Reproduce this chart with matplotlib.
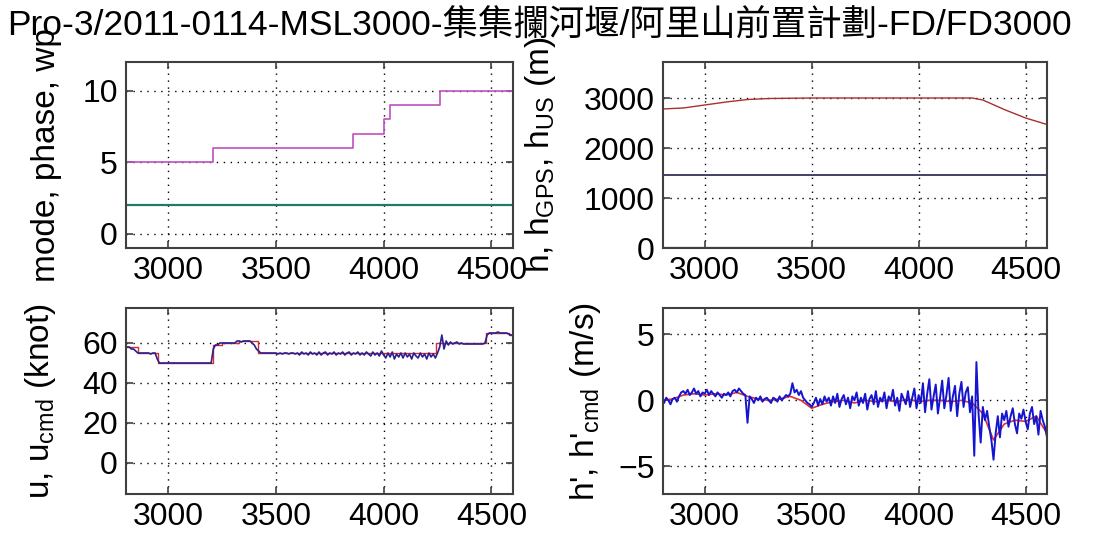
import numpy as np
import matplotlib.pyplot as plt

plt.rcParams['font.family'] = ['Liberation Sans', 'Noto Sans CJK TC', 'DejaVu Sans']
plt.rcParams['mathtext.fontset'] = 'custom'
plt.rcParams['mathtext.rm'] = 'Liberation Sans'
plt.rcParams['mathtext.it'] = 'Liberation Sans'

titulo = 'Pro-3/2011-0114-MSL3000-集集攔河堰/阿里山前置計劃-FD/FD3000'

# modo / fase / waypoint (escalones)
t_wp = [2800, 3208, 3856, 4000, 4030, 4260, 4600]
wp = [5, 6, 7, 8, 9, 10, 10]
t_mode = [2800, 4600]
mode = [2, 2]

# alturas
t_h = [2800, 2900, 3000, 3100, 3200, 3300, 3500, 3700, 4000, 4250, 4300, 4400, 4500, 4600]
h = [2780, 2800, 2860, 2920, 2970, 2990, 3000, 3000, 3000, 3000, 2960, 2770, 2600, 2470]
t_gps = [2800, 4600]
h_gps = [1460, 1460]
h_us = [0, 0]

# velocidad
t10 = np.arange(2800, 4601, 10)
u = [58, 58, 58, 57, 57, 56, 55, 55, 55, 55,
     55, 55, 54.5, 55, 55, 52, 50, 50, 50, 50,
     50, 50, 50, 50, 50, 50, 50, 50, 50, 50,
     50, 50, 50, 50, 50, 50, 50, 50, 50, 50,
     50, 57, 59, 59, 60, 60, 60, 60, 60, 60,
     60, 60, 61, 61, 60.5, 61, 61, 61, 61, 60,
     59, 57, 56, 55, 55, 55, 55, 55, 55, 55,
     55, 54.5, 55, 54.5, 55, 55, 54.5, 55, 55, 54.5,
     55, 54, 55.5, 54.5, 55, 54, 55.5, 54.5, 55, 54,
     55.5, 54, 55, 55.5, 54, 55, 54.5, 55.5, 54, 55,
     54.5, 55.5, 54, 55, 55.5, 54, 55, 54.5, 55.5, 54,
     55, 54, 55.5, 54.5, 53.5, 55.5, 54, 55, 53.5, 56,
     54, 52.5, 55, 53, 55.5, 52, 54.5, 53, 55, 52.5,
     55, 53, 54.5, 52, 55, 53.5, 52.5, 55, 53, 54.5,
     52, 55, 53, 54.5, 52.5, 55, 58, 64, 57, 61,
     59, 60.5, 59.5, 60, 60.5, 59.5, 60, 59.5, 59.5, 59.5,
     59.5, 59.5, 59.5, 59.5, 59.5, 59.5, 59.5, 60, 64, 65,
     65, 65, 65, 65.5, 65, 65, 65, 65, 64.5, 64,
     64]
t_ucmd = [2800, 2860, 2955, 3210, 3250, 3330, 3415, 4245, 4475, 4580, 4600]
u_cmd = [58, 55, 50, 59, 60, 61, 55, 60, 65, 64, 64]

# velocidad vertical
hdot = [0.1, -0.2, 0.2, 0.0, -0.3, 0.1, 0.2, -0.1, 0.3, 0.6,
        0.7, 0.5, 0.8, 0.4, 0.6, 0.9, 0.5, 0.7, 0.3, 0.6,
        0.5, 0.8, 0.4, 0.7, 0.5, 0.3, 0.6, 0.4, 0.2, 0.5,
        0.4, 0.6, 0.3, 0.7, 0.8, 0.6, 0.9, 0.7, 0.5, 0.4,
        -1.7, 0.3, 0.1, -0.2, 0.2, 0.0, 0.3, -0.1, 0.1, 0.2,
        0.0, -0.2, 0.2, 0.1, -0.1, 0.3, 0.0, 0.2, 0.4, 0.3,
        0.5, 1.3, 0.6, 0.8, 0.4, 0.7, 0.2, 0.0, -0.2, -0.3,
        -0.5, -0.2, 0.2, -0.4, 0.1, -0.3, 0.3, -0.1, 0.2, -0.4,
        0.3, -0.2, 0.5, -0.5, 0.1, 0.4, -0.3, 0.2, -0.6, 0.3,
        0.0, 0.6, -0.4, 0.2, -0.2, 0.5, -0.7, 0.1, 0.4, -0.3,
        0.7, -0.5, 0.2, -0.1, 0.6, -0.6, 0.3, 0.0, 0.8, -0.4,
        0.2, -0.8, 0.5, 0.1, -0.3, 0.7, -0.5, 0.2, 0.9, -0.6,
        0.4, -0.2, 1.3, -0.9, 0.5, 1.6, -0.7, 0.3, 1.2, -1.0,
        0.2, 1.5, -0.6, 0.4, 1.7, -0.8, 0.3, 1.1, -1.2, 0.5,
        1.4, -0.5, 0.6, 1.0, -0.9, 0.3, -4.2, 2.9, -1.0, -3.2,
        -0.5, -1.5, -0.8, -2.0, -3.0, -4.5, -2.5, -1.2, -2.8, -1.0,
        -1.5, -0.8, -2.0, -1.2, -0.6, -1.8, -2.5, -1.0, -1.4, -0.7,
        -1.6, -2.2, -1.0, -0.5, -1.8, -1.2, -2.6, -0.8, -1.5, -2.0,
        -2.8]
t50 = np.arange(2800, 4601, 50)
hdot_cmd = [0.0, 0.1, 0.4, 0.5, 0.4, 0.5, 0.4, 0.6, 0.3, 0.1,
            0.0, 0.1, 0.3, 0.0, -0.6, -0.3, -0.1, 0.0, -0.2, 0.0,
            -0.1, 0.0, -0.1, 0.1, -0.1, 0.0, 0.0, -0.1, 0.0, -0.2,
            -1.0, -3.0, -1.8, -1.5, -1.6, -1.2, -2.5]

fig = plt.figure(figsize=(10.97, 5.41), dpi=100)
W, H = 1097, 541
def caja(x0, y0, x1, y1):
    return fig.add_axes([x0 / W, 1 - y1 / H, (x1 - x0) / W, (y1 - y0) / H])

ax1 = caja(126, 62, 513, 248)
ax2 = caja(663, 62, 1047, 248)
ax3 = caja(126, 308, 513, 494)
ax4 = caja(663, 308, 1047, 494)

ax1.step(t_wp, wp, where='post', color='#c050c0', lw=1.2)
ax1.plot(t_mode, mode, color='#1f7a6a', lw=1.6)
ax1.set_ylim(-1, 12)
ax1.set_yticks([0, 5, 10])
ax1.set_ylabel('mode, phase, wp', va='center')
ax1.yaxis.set_label_coords(-0.205, 0.5)

ax2.plot(t_h, h, color='#a83030', lw=1.0)
ax2.plot(t_gps, h_gps, color='#202050', lw=1.2)
ax2.plot(t_gps, h_us, color='#20a020', lw=1.6)
ax2.set_ylim(0, 3720)
ax2.set_yticks([0, 1000, 2000, 3000])
ax2.set_ylabel('h, h$_{GPS}$, h$_{US}$ (m)', va='center')
ax2.yaxis.set_label_coords(-0.32, 0.5)

ax3.step(t_ucmd, u_cmd, where='post', color='#d03030', lw=1.0)
ax3.plot(t10, u, color='#2a2090', lw=1.2)
ax3.set_ylim(-15.5, 77.5)
ax3.set_yticks([0, 20, 40, 60])
ax3.set_ylabel('u, u$_{cmd}$ (knot)', va='center')
ax3.yaxis.set_label_coords(-0.222, 0.5)

ax4.plot(t50, hdot_cmd, color='#e03030', lw=1.2)
ax4.plot(t10, hdot, color='#1515d0', lw=1.4)
ax4.set_ylim(-7.1, 7)
ax4.set_yticks([-5, 0, 5])
ax4.set_ylabel("h', h'$_{cmd}$ (m/s)", va='center')
ax4.yaxis.set_label_coords(-0.203, 0.5)

for ax in (ax1, ax2, ax3, ax4):
    ax.set_xlim(2805, 4600)
    ax.set_xticks([3000, 3500, 4000, 4500])
    ax.grid(color='black', linestyle=(0, (1, 4)), linewidth=1.0)
    ax.tick_params(direction='in', labelsize=23, length=5, top=True, right=True,
                   color='#404040', width=1.2, pad=6)
    ax.yaxis.label.set_size(24)
    for s in ax.spines.values():
        s.set_color('#404040')
        s.set_linewidth(1.5)

fig.text(0.492, 0.982, titulo, ha='center', va='top', fontsize=25.5)

fig.savefig('out.png', dpi=100)
